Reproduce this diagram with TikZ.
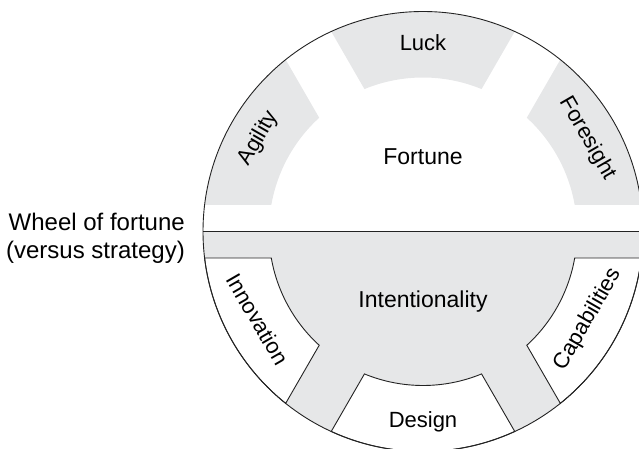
\documentclass[tikz,border=0pt]{standalone}
\usepackage{fontspec}
\setmainfont{Liberation Sans}
\definecolor{wheelgray}{RGB}{230,231,232}
\definecolor{rimline}{RGB}{35,35,35}
\begin{document}
\begin{tikzpicture}[x=1pt,y=1pt,
  rim/.style={draw=rimline,line width=0.9pt},
  whitesector/.style={fill=white,draw=rimline,line width=0.9pt,line join=miter},
  biglabel/.style={font=\fontsize{23}{26}\selectfont,inner sep=0pt},
  seglabel/.style={font=\fontsize{22}{24}\selectfont,inner sep=0pt},
  titlelabel/.style={font=\fontsize{24}{28}\selectfont,inner sep=0pt},
]
\useasboundingbox (-423,-217.5) rectangle (216,231.5);
\def\Ro{220}
\def\Ri{154}

% lower half: gray ground
\fill[wheelgray] (-\Ro,0) arc[start angle=180,end angle=360,radius=\Ro] -- cycle;

% upper half: gray rim sectors
\fill[wheelgray] (173.08:\Ro) arc[start angle=173.08,end angle=128.63,radius=\Ro]
  -- (132.38:\Ri) arc[start angle=132.38,end angle=170.09,radius=\Ri] -- cycle;
\fill[wheelgray] (114.65:\Ro) arc[start angle=114.65,end angle=65.35,radius=\Ro]
  -- (67.65:\Ri) arc[start angle=67.65,end angle=112.35,radius=\Ri] -- cycle;
\fill[wheelgray] (51.37:\Ro) arc[start angle=51.37,end angle=6.92,radius=\Ro]
  -- (9.91:\Ri) arc[start angle=9.91,end angle=47.62,radius=\Ri] -- cycle;

% lower half: white rim sectors
\draw[whitesector] (186.92:\Ro) arc[start angle=186.92,end angle=231.37,radius=\Ro]
  -- (227.62:\Ri) arc[start angle=227.62,end angle=189.91,radius=\Ri] -- cycle;
\draw[whitesector] (245.35:\Ro) arc[start angle=245.35,end angle=294.65,radius=\Ro]
  -- (292.35:\Ri) arc[start angle=292.35,end angle=247.65,radius=\Ri] -- cycle;
\draw[whitesector] (308.63:\Ro) arc[start angle=308.63,end angle=353.08,radius=\Ro]
  -- (350.09:\Ri) arc[start angle=350.09,end angle=312.38,radius=\Ri] -- cycle;

% outer rim and dividing line
\draw[rim] (0,0) circle[radius=\Ro];
\draw[rim] (-\Ro,0) -- (\Ro,0);

% labels
\node[biglabel] (fortune) at (0,75) {Fortune};
\node[biglabel] (intent) at (0,-70) {Intentionality};
\node[seglabel] (luck) at (0,189) {Luck};
\node[seglabel,rotate=60] (agility) at (150.5:189) {Agility};
\node[seglabel,rotate=-60] (foresight) at (29.5:189) {Foresight};
\node[seglabel,rotate=-60] (innovation) at (208:187) {Innovation};
\node[seglabel,rotate=60] (capab) at (332:187) {Capabilities};
\node[seglabel] (design) at (0,-190) {Design};
\node[titlelabel,anchor=north east,align=right] (title) at (-238,19)
  {Wheel of fortune\\(versus strategy)};
\end{tikzpicture}
\end{document}
